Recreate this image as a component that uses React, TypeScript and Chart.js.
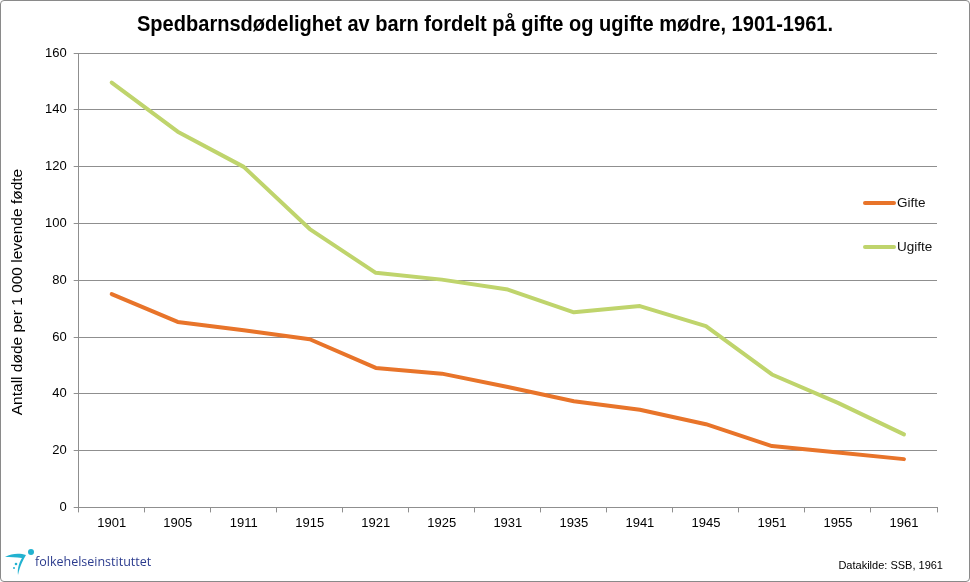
import { useEffect, useRef } from "react";
import { Chart, registerables } from "chart.js";

Chart.register(...registerables);

const years = ["1901", "1905", "1911", "1915", "1921", "1925", "1931", "1935", "1941", "1945", "1951", "1955", "1961"];
const gifte = [75.1, 65.3, 62.4, 59.2, 49.1, 47.1, 42.4, 37.4, 34.4, 29.3, 21.6, 19.3, 17.0];
const ugifte = [149.6, 132.3, 119.9, 98.0, 82.6, 80.2, 76.7, 68.7, 70.9, 63.8, 46.8, 36.8, 25.7];
const seriesNames = ["Gifte", "Ugifte"];
const seriesColors = ["#E8742A", "#BFD46C"];
const yTicksMin = 0;
const yTicksMax = 160;
const yTicksStep = 20;
const titleText = "Spedbarnsdødelighet av barn fordelt på gifte og ugifte mødre, 1901-1961.";
const yTitleText = "Antall døde per 1 000 levende fødte";
const sourceText = "Datakilde: SSB, 1961";
const logoText = "folkehelseinstituttet";

const FONT = "'Liberation Sans', Arial, sans-serif";
const GRID = "#8f8f8f";

const decorPlugin = {
  id: "decor",
  afterDraw(chart: any) {
    const ctx = chart.ctx as CanvasRenderingContext2D;
    const area = chart.chartArea;
    ctx.save();
    // title
    ctx.font = `bold 22px ${FONT}`;
    ctx.fillStyle = "#000";
    ctx.textBaseline = "alphabetic";
    ctx.textAlign = "center";
    const w = ctx.measureText(titleText).width;
    const target = 696;
    ctx.translate(485, 31);
    ctx.scale(target / w, 1);
    ctx.fillText(titleText, 0, 0);
    ctx.restore();

    // y title
    ctx.save();
    ctx.font = `15.5px ${FONT}`;
    ctx.fillStyle = "#000";
    ctx.textAlign = "center";
    ctx.textBaseline = "middle";
    ctx.translate(18, 292);
    ctx.rotate(-Math.PI / 2);
    ctx.fillText(yTitleText, 0, 0);
    ctx.restore();

    // legend
    ctx.save();
    const ys = [203, 247];
    seriesNames.forEach((name, i) => {
      ctx.strokeStyle = seriesColors[i];
      ctx.lineWidth = 4;
      ctx.lineCap = "round";
      ctx.beginPath();
      ctx.moveTo(area.right - 72, ys[i]);
      ctx.lineTo(area.right - 43, ys[i]);
      ctx.stroke();
      ctx.font = `13.5px ${FONT}`;
      ctx.fillStyle = "#111";
      ctx.textAlign = "left";
      ctx.textBaseline = "middle";
      ctx.fillText(name, area.right - 40, ys[i]);
    });
    ctx.restore();
  },
};

export default function App() {
  const ref = useRef<HTMLCanvasElement | null>(null);

  useEffect(() => {
    document.body.style.margin = "0";
    if (!ref.current) return;
    const chart = new Chart(ref.current, {
      type: "line",
      data: {
        labels: years,
        datasets: [
          {
            label: seriesNames[0],
            data: gifte,
            borderColor: seriesColors[0],
            backgroundColor: seriesColors[0],
            borderWidth: 4,
            pointRadius: 0,
            tension: 0,
            borderCapStyle: "round",
            borderJoinStyle: "round",
          },
          {
            label: seriesNames[1],
            data: ugifte,
            borderColor: seriesColors[1],
            backgroundColor: seriesColors[1],
            borderWidth: 4,
            pointRadius: 0,
            tension: 0,
            borderCapStyle: "round",
            borderJoinStyle: "round",
          },
        ],
      },
      options: {
        animation: false,
        responsive: false,
        devicePixelRatio: 1,
        layout: { padding: { left: 38, right: 33, top: 53, bottom: 48 } },
        plugins: { legend: { display: false }, title: { display: false }, tooltip: { enabled: false } },
        scales: {
          x: {
            offset: true,
            grid: { offset: true, drawOnChartArea: false, drawTicks: true, tickLength: 5, color: GRID },
            border: { display: true, color: GRID },
            ticks: { color: "#000", font: { family: FONT, size: 13 }, padding: 3, maxRotation: 0, autoSkip: false },
          },
          y: {
            min: yTicksMin,
            max: yTicksMax,
            grid: { color: GRID, tickLength: 5, drawTicks: true },
            border: { display: true, color: GRID },
            ticks: { stepSize: yTicksStep, color: "#000", font: { family: FONT, size: 13 }, padding: 7 },
          },
        },
      },
      plugins: [decorPlugin],
    });
    return () => chart.destroy();
  }, []);

  return (
    <div style={{ position: "relative", width: 970, height: 582, background: "#fff" }}>
      <canvas ref={ref} width={970} height={582} style={{ position: "absolute", left: 0, top: 0, width: 970, height: 582 }} />
      <div
        style={{
          position: "absolute",
          left: 0,
          top: 0,
          width: 968,
          height: 580,
          border: "1px solid #8a8a8a",
          borderRadius: 4,
          pointerEvents: "none",
        }}
      />
      <svg width={34} height={30} viewBox="0 0 34 30" style={{ position: "absolute", left: 3, top: 548 }}>
        <path d="M2 9 C 9 5, 17 5, 23 7 C 20 12, 17 18, 15 27 C 14 20, 17 13, 19 10 C 13 9, 7 9, 2 9 Z" fill="#22B2D0" />
        <circle cx={28} cy={4} r={3} fill="#22B2D0" />
        <circle cx={13} cy={16} r={1.3} fill="#22B2D0" />
        <circle cx={11} cy={20} r={1} fill="#22B2D0" />
      </svg>
      <div
        style={{
          position: "absolute",
          left: 35,
          top: 554,
          fontFamily: "'Open Sans', sans-serif",
          fontSize: 12.5,
          color: "#2C3C8E",
          lineHeight: "16px",
          whiteSpace: "nowrap",
        }}
      >
        {logoText}
      </div>
      <div
        style={{
          position: "absolute",
          right: 27,
          top: 558,
          fontFamily: FONT,
          fontSize: 11,
          color: "#000",
          lineHeight: "14px",
          whiteSpace: "nowrap",
        }}
      >
        {sourceText}
      </div>
    </div>
  );
}
